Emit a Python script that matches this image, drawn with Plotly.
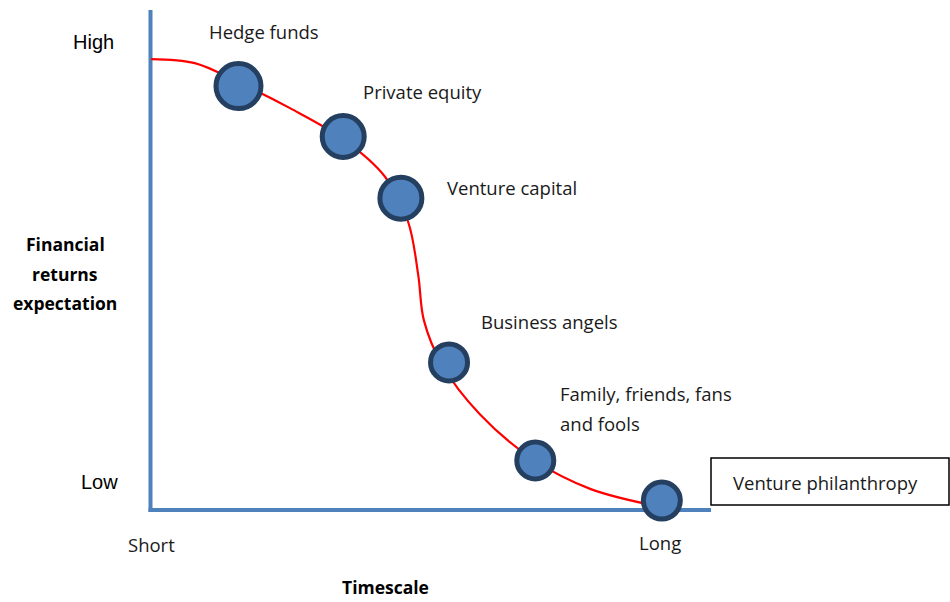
import plotly.graph_objects as go

# ---- data (conceptual units: timescale 0..10, financial return expectation 0..10) ----
investor_types = ["Hedge funds", "Private equity", "Venture capital",
                  "Business angels", "Family, friends, fans and fools",
                  "Venture philanthropy"]
timescale = [1.58, 3.45, 4.48, 5.34, 6.88, 9.14]
returns_expectation = [9.42, 8.30, 6.93, 3.28, 1.10, 0.21]

curve_x = [0.02, 0.80, 1.57, 2.50, 3.45, 4.20, 4.61, 4.79, 4.89, 5.21, 5.89, 6.88,
           7.86, 9.04]
curve_y = [10.02, 9.93, 9.51, 8.93, 8.24, 7.40, 6.40, 5.22, 4.22, 3.24, 2.13, 1.09,
           0.47, 0.09]

y_tick_labels = ["Low", "High"]
x_tick_labels = ["Short", "Long"]
y_title_lines = ["Financial", "returns", "expectation"]
x_title = "Timescale"

# ---- layout helpers: pixel <-> axis units ----
W, H = 950, 602
X0PX, XSCALE = 150, 56.0   # pixel of x=0, pixels per unit
Y0PX, YSCALE = 510, 45.0   # pixel of y=0, pixels per unit


def px2x(px):
    return (px - X0PX) / XSCALE


def py2y(py):
    return (Y0PX - py) / YSCALE


BLUE = "#4F81BD"
NAVY = "#243F60"
TXT = "#1a1a1a"
CAL = "Open Sans"
LBL = 18.5

fig = go.Figure()

fig.add_trace(go.Scatter(
    x=curve_x, y=curve_y, mode="lines",
    line=dict(color="#FF0000", width=2.2, shape="spline", smoothing=1.0),
    hoverinfo="skip", showlegend=False))

marker_sizes = [45, 42, 42, 37, 37, 37]
fig.add_trace(go.Scatter(
    x=timescale, y=returns_expectation, mode="markers",
    marker=dict(size=marker_sizes, color=BLUE, opacity=1,
                line=dict(color=NAVY, width=5)),
    text=investor_types, hoverinfo="text", showlegend=False))

# axis lines
fig.add_shape(type="line", x0=px2x(150.5), x1=px2x(150.5), y0=py2y(10), y1=py2y(512),
              line=dict(color=BLUE, width=4), layer="below")
fig.add_shape(type="line", x0=px2x(148.5), x1=px2x(711), y0=py2y(510), y1=py2y(510),
              line=dict(color=BLUE, width=4), layer="below")

# box around "Venture philanthropy"
fig.add_shape(type="rect", x0=px2x(711), x1=px2x(949), y0=py2y(458), y1=py2y(505),
              line=dict(color="#000000", width=1.5), fillcolor="white", layer="below")

# point labels (offsets in pixels from the point)
label_offsets = [(-31, 55), (18, 45), (44, 11), (30, 41), (23, 52)]
for i in range(5):
    dx, dy = label_offsets[i]
    if i == 4:
        lines = ["Family, friends, fans", "and fools"]
        for j, t in enumerate(lines):
            fig.add_annotation(x=timescale[i], y=returns_expectation[i], text=t,
                               showarrow=False, xanchor="left", yanchor="middle",
                               xshift=dx, yshift=dy + 15 - 30 * j,
                               font=dict(family=CAL, size=LBL, color=TXT))
    else:
        fig.add_annotation(x=timescale[i], y=returns_expectation[i], text=investor_types[i],
                           showarrow=False, xanchor="left", yanchor="middle",
                           xshift=dx, yshift=dy,
                           font=dict(family=CAL, size=LBL, color=TXT))

fig.add_annotation(x=px2x(731), y=py2y(482), text=investor_types[5], showarrow=False,
                   xanchor="left", yanchor="middle",
                   font=dict(family=CAL, size=LBL, color=TXT))

# axis "ticks"
fig.add_annotation(x=px2x(99), y=py2y(482), text=y_tick_labels[0], showarrow=False,
                   xanchor="center", yanchor="middle",
                   font=dict(family="Liberation Sans", size=20, color="#000"))
fig.add_annotation(x=px2x(93), y=py2y(42), text=y_tick_labels[1], showarrow=False,
                   xanchor="center", yanchor="middle",
                   font=dict(family="Liberation Sans", size=20, color="#000"))
fig.add_annotation(x=px2x(151), y=py2y(544), text=x_tick_labels[0], showarrow=False,
                   xanchor="center", yanchor="middle",
                   font=dict(family=CAL, size=LBL, color=TXT))
fig.add_annotation(x=px2x(660), y=py2y(542), text=x_tick_labels[1], showarrow=False,
                   xanchor="center", yanchor="middle",
                   font=dict(family=CAL, size=LBL, color=TXT))

# axis titles
for j, t in enumerate(y_title_lines):
    fig.add_annotation(x=px2x(65), y=py2y(244 + 29.5 * j), text="<b>%s</b>" % t,
                       showarrow=False, xanchor="center", yanchor="middle",
                       font=dict(family=CAL, size=17.5, color="#000"))
fig.add_annotation(x=px2x(385), y=py2y(587), text="<b>%s</b>" % x_title, showarrow=False,
                   xanchor="center", yanchor="middle",
                   font=dict(family=CAL, size=17.5, color="#000"))

fig.update_layout(
    width=W, height=H, autosize=False,
    margin=dict(l=0, r=0, t=0, b=0),
    paper_bgcolor="white", plot_bgcolor="white",
    xaxis=dict(range=[px2x(0), px2x(W)], visible=False, fixedrange=True),
    yaxis=dict(range=[py2y(H), py2y(0)], visible=False, fixedrange=True),
    showlegend=False,
)

fig.write_html("out.html", config={"displayModeBar": False},
               post_script="document.body.style.margin='0';document.body.style.padding='0';")
